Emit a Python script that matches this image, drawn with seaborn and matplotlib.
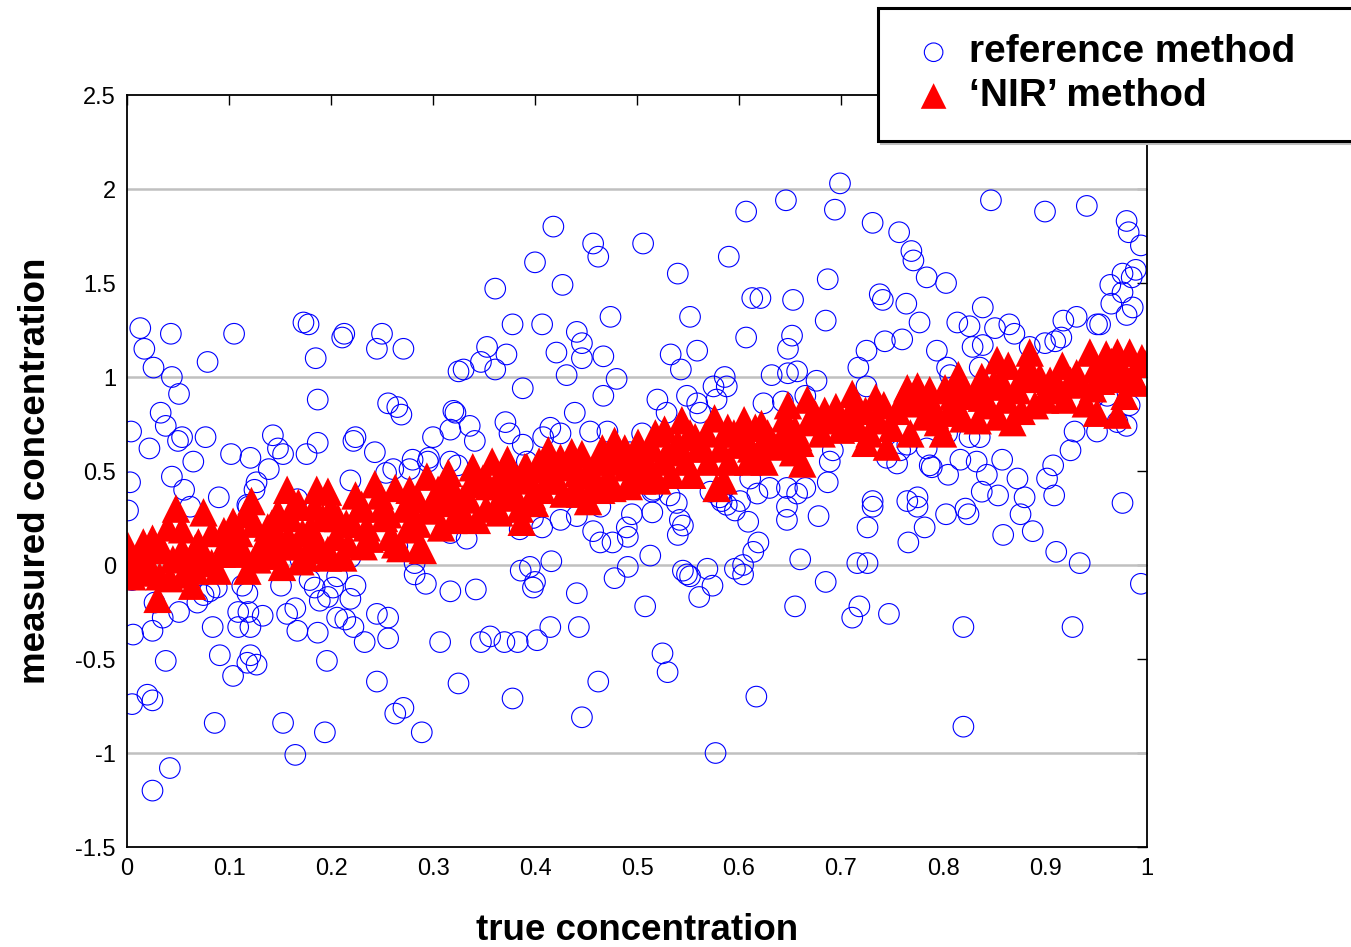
import numpy as np
import pandas as pd
import matplotlib
matplotlib.use("Agg")
import matplotlib.pyplot as plt
import seaborn as sns

# reference method readings (true, measured)
ref_x = [0.013, 0.017, 0.026, 0.043, 0.044, 0.051, 0.033, 0.038, 0.004, 0.050,
         0.054, 0.022, 0.065, 0.079, 0.105, 0.077, 0.102, 0.121, 0.139, 0.143,
         0.148, 0.153, 0.176, 0.187, 0.187, 0.185, 0.173, 0.178, 0.211, 0.213,
         0.250, 0.245, 0.271, 0.256, 0.265, 0.269, 0.300, 0.317, 0.320, 0.325,
         0.224, 0.222, 0.243, 0.280, 0.277, 0.296, 0.295, 0.254, 0.261, 0.219,
         0.044, 0.056, 0.003, 0.127, 0.125, 0.090, 0.062, 0.118, 0.167, 0.317,
         0.001, 0.119, 0.005, 0.027, 0.035, 0.051, 0.025, 0.006, 0.069, 0.075,
         0.081, 0.088, 0.084, 0.038, 0.091, 0.104, 0.118, 0.121, 0.127, 0.109,
         0.109, 0.121, 0.119, 0.133, 0.113, 0.118, 0.151, 0.157, 0.165, 0.167,
         0.187, 0.196, 0.179, 0.184, 0.189, 0.197, 0.206, 0.202, 0.219, 0.224,
         0.206, 0.214, 0.222, 0.233, 0.245, 0.256, 0.256, 0.245, 0.263, 0.271,
         0.289, 0.307, 0.282, 0.282, 0.293, 0.317, 0.325, 0.005, 0.020, 0.025,
         0.086, 0.153, 0.165, 0.194, 0.042, 0.025, 0.265, 0.143, 0.170, 0.219,
         0.317,
         0.418, 0.457, 0.462, 0.506, 0.400, 0.427, 0.361, 0.540, 0.607, 0.646,
         0.590, 0.613, 0.621, 0.653, 0.552, 0.474, 0.378, 0.407, 0.441, 0.446,
         0.421, 0.467, 0.446, 0.353, 0.372, 0.347, 0.330, 0.361, 0.431, 0.480,
         0.388, 0.467, 0.533, 0.559, 0.543, 0.607, 0.652, 0.648, 0.632, 0.648,
         0.586, 0.588, 0.575, 0.520, 0.549, 0.559, 0.578, 0.529, 0.624, 0.643,
         0.562, 0.439, 0.322, 0.336, 0.341, 0.371, 0.375, 0.388, 0.408, 0.415,
         0.425, 0.454, 0.471, 0.505, 0.324, 0.392, 0.493, 0.510, 0.516, 0.532,
         0.539, 0.611, 0.618, 0.630, 0.647, 0.581, 0.588, 0.601, 0.572, 0.657,
         0.464, 0.495, 0.515, 0.542, 0.545, 0.540, 0.490, 0.491, 0.457, 0.464,
         0.476, 0.441, 0.425, 0.407, 0.398, 0.385, 0.333, 0.515, 0.584, 0.596,
         0.583, 0.609, 0.647, 0.647, 0.619, 0.614, 0.604, 0.596, 0.604, 0.569,
         0.545, 0.549, 0.552, 0.574, 0.561, 0.513, 0.491, 0.478, 0.508, 0.416,
         0.395, 0.386, 0.400, 0.398, 0.441, 0.342, 0.415, 0.443, 0.356, 0.347,
         0.370, 0.383, 0.402, 0.525, 0.530, 0.378, 0.462, 0.446, 0.617, 0.577,
         0.655, 0.660,
         0.699, 0.694, 0.847, 0.900, 0.941, 0.980, 0.982, 0.994, 0.731, 0.757,
         0.769, 0.771, 0.784, 0.803, 0.687, 0.738, 0.741, 0.764, 0.685, 0.777,
         0.839, 0.814, 0.826, 0.851, 0.865, 0.870, 0.976, 0.989, 0.985, 0.964,
         0.976, 0.965, 0.986, 0.980, 0.918, 0.931, 0.951, 0.954, 0.916, 0.910,
         0.900, 0.885, 0.829, 0.839, 0.794, 0.760, 0.743, 0.725, 0.717, 0.676,
         0.657, 0.804, 0.807, 0.836, 0.873, 0.725, 0.665, 0.961, 0.983, 0.947,
         0.971, 0.980, 0.929, 0.951, 0.925, 0.826, 0.836, 0.804, 0.784, 0.765,
         0.758, 0.692, 0.689, 0.745, 0.755, 0.787, 0.789, 0.805, 0.817, 0.833,
         0.843, 0.858, 0.873, 0.908, 0.902, 0.838, 0.854, 0.880, 0.909, 0.976,
         0.687, 0.665, 0.731, 0.765, 0.775, 0.678, 0.731, 0.775, 0.782, 0.766,
         0.726, 0.803, 0.822, 0.825, 0.876, 0.888, 0.859, 0.911, 0.934, 0.994,
         0.716, 0.726, 0.685, 0.718, 0.711, 0.747, 0.820, 0.927, 0.820]
ref_y = [1.26, 1.15, 1.05, 1.23, 1.00, 0.91, 0.81, 0.74, 0.71, 0.66,
         0.68, 0.62, 0.55, 1.08, 1.23, 0.68, 0.59, 0.57, 0.51, 0.69,
         0.62, 0.59, 0.59, 0.65, 0.88, 1.10, 1.29, 1.28, 1.21, 1.23,
         1.23, 1.15, 1.15, 0.86, 0.84, 0.80, 0.68, 0.72, 0.82, 1.03,
         0.68, 0.66, 0.60, 0.56, 0.51, 0.57, 0.55, 0.49, 0.51, 0.45,
         0.47, 0.40, 0.44, 0.44, 0.40, 0.36, 0.31, 0.32, 0.35, 0.55,
         0.29, 0.31, -0.08, -0.20, -0.28, -0.25, -0.35, -0.37, -0.20, -0.16,
         -0.14, -0.12, -0.33, -0.51, -0.48, -0.59, -0.52, -0.48, -0.53, -0.33,
         -0.25, -0.33, -0.25, -0.27, -0.11, -0.15, -0.11, -0.26, -0.23, -0.35,
         -0.36, -0.51, -0.08, -0.12, -0.19, -0.17, -0.06, -0.12, -0.18, -0.11,
         -0.28, -0.29, -0.33, -0.41, -0.26, -0.28, -0.39, -0.62, -0.79, -0.76,
         -0.89, -0.41, 0.01, -0.05, -0.10, -0.14, -0.63, -0.74, -0.69, -0.72,
         -0.84, -0.84, -1.01, -0.89, -1.08, -1.20, 0.10, 0.04, 0.03, 0.04,
         0.17,
         1.80, 1.71, 1.64, 1.71, 1.61, 1.49, 1.47, 1.55, 1.88, 1.94,
         1.64, 1.42, 1.42, 1.41, 1.32, 1.32, 1.28, 1.28, 1.24, 1.18,
         1.13, 1.11, 1.10, 1.16, 1.12, 1.08, 1.04, 1.04, 1.01, 0.99,
         0.94, 0.90, 1.12, 1.14, 1.04, 1.21, 1.22, 1.15, 1.01, 1.02,
         1.00, 0.95, 0.95, 0.88, 0.90, 0.86, 0.88, 0.81, 0.86, 0.87,
         0.81, 0.81, 0.81, 0.74, 0.66, 0.76, 0.70, 0.64, 0.68, 0.73,
         0.70, 0.71, 0.71, 0.70, 0.53, 0.55, 0.60, 0.56, 0.40, 0.37,
         0.33, 0.46, 0.38, 0.41, 0.41, 0.36, 0.32, 0.34, 0.39, 0.38,
         0.31, 0.27, 0.28, 0.24, 0.21, 0.16, 0.20, 0.15, 0.18, 0.12,
         0.12, 0.26, 0.24, 0.20, 0.25, 0.19, 0.14, 0.39, 0.40, 0.29,
         0.34, 0.23, 0.31, 0.24, 0.12, 0.07, 0.00, -0.02, -0.05, -0.02,
         -0.03, -0.05, -0.06, -0.11, -0.17, 0.05, -0.01, -0.07, -0.22, 0.02,
         -0.01, -0.03, -0.09, -0.12, -0.15, -0.13, -0.33, -0.33, -0.38, -0.41,
         -0.41, -0.41, -0.40, -0.47, -0.57, -0.71, -0.62, -0.81, -0.70, -1.00,
         -0.22, 0.03,
         2.03, 1.89, 1.94, 1.88, 1.91, 1.83, 1.77, 1.70, 1.82, 1.77,
         1.67, 1.62, 1.53, 1.50, 1.52, 1.44, 1.41, 1.39, 1.30, 1.29,
         1.37, 1.29, 1.27, 1.26, 1.28, 1.23, 1.55, 1.57, 1.53, 1.49,
         1.45, 1.39, 1.37, 1.33, 1.30, 1.32, 1.28, 1.28, 1.21, 1.19,
         1.18, 1.16, 1.16, 1.17, 1.14, 1.20, 1.19, 1.14, 1.05, 0.98,
         1.03, 1.05, 1.01, 1.05, 0.97, 0.95, 0.90, 0.90, 0.85, 0.89,
         0.76, 0.74, 0.71, 0.71, 0.61, 0.68, 0.68, 0.70, 0.62, 0.64,
         0.61, 0.61, 0.55, 0.57, 0.54, 0.53, 0.52, 0.48, 0.56, 0.55,
         0.48, 0.56, 0.46, 0.53, 0.46, 0.39, 0.37, 0.36, 0.37, 0.33,
         0.44, 0.41, 0.34, 0.34, 0.36, 0.26, 0.31, 0.31, 0.20, 0.12,
         0.20, 0.27, 0.30, 0.27, 0.27, 0.18, 0.16, 0.07, 0.01, -0.10,
         0.01, 0.01, -0.09, -0.22, -0.28, -0.26, -0.33, -0.33, -0.86]

# 'NIR' method readings (true, measured)
nir_x = [0.048, 0.075, 0.001, 0.025, 0.016, 0.040, 0.054, 0.005, 0.018, 0.032,
         0.042, 0.030, 0.064, 0.067, 0.083, 0.089, 0.054, 0.067, 0.083, 0.104,
         0.116, 0.118, 0.125, 0.132, 0.103, 0.114, 0.093, 0.152, 0.175, 0.157,
         0.186, 0.197, 0.148, 0.163, 0.184, 0.158, 0.172, 0.187, 0.197, 0.142,
         0.142, 0.008, 0.012, 0.020, 0.035, 0.060, 0.072, 0.098, 0.135, 0.165,
         0.224, 0.243, 0.263, 0.277, 0.294, 0.315, 0.339, 0.358, 0.373, 0.392,
         0.404, 0.207, 0.221, 0.238, 0.217, 0.197, 0.263, 0.287, 0.275, 0.256,
         0.275, 0.295, 0.302, 0.319, 0.329, 0.320, 0.343, 0.324, 0.344, 0.366,
         0.371, 0.387, 0.397, 0.349, 0.250, 0.230, 0.285, 0.310, 0.355, 0.380,
         0.413, 0.436, 0.446, 0.466, 0.478, 0.412, 0.407, 0.442, 0.444, 0.459,
         0.476, 0.490, 0.495, 0.511, 0.518, 0.527, 0.544, 0.537, 0.534, 0.554,
         0.557, 0.570, 0.576, 0.589, 0.578, 0.599, 0.605, 0.609, 0.501, 0.508,
         0.425, 0.486, 0.420, 0.455, 0.470, 0.530, 0.565, 0.595,
         0.616, 0.628, 0.648, 0.648, 0.653, 0.662, 0.667, 0.684, 0.695, 0.711,
         0.707, 0.717, 0.724, 0.734, 0.736, 0.745, 0.755, 0.765, 0.773, 0.782,
         0.787, 0.802, 0.795, 0.805, 0.635, 0.619, 0.658, 0.681, 0.724, 0.640,
         0.700, 0.760, 0.790,
         0.815, 0.838, 0.853, 0.864, 0.885, 0.878, 0.887, 0.859, 0.873, 0.877,
         0.854, 0.838, 0.822, 0.812, 0.834, 0.902, 0.900, 0.917, 0.913, 0.931,
         0.944, 0.949, 0.947, 0.951, 0.960, 0.971, 0.983, 0.995, 0.986, 0.971,
         0.978, 0.969, 0.830, 0.895, 0.925, 0.960,
         0.010, 0.022, 0.028, 0.045, 0.058, 0.070, 0.078, 0.095, 0.108, 0.128,
         0.138, 0.150, 0.160, 0.170, 0.180, 0.192, 0.205, 0.212, 0.228, 0.235,
         0.248, 0.258, 0.268, 0.272, 0.283, 0.290, 0.300, 0.308, 0.318, 0.332,
         0.338, 0.352, 0.362, 0.368, 0.378, 0.385, 0.395, 0.400, 0.418, 0.428,
         0.432, 0.450, 0.452, 0.462, 0.472, 0.483, 0.492, 0.500, 0.515, 0.520,
         0.525, 0.540, 0.548, 0.560, 0.568, 0.582, 0.590, 0.600, 0.612, 0.622,
         0.632, 0.645, 0.655, 0.668, 0.675, 0.690, 0.700, 0.715, 0.728, 0.742,
         0.750, 0.768, 0.778, 0.792, 0.800, 0.810, 0.820, 0.845, 0.850, 0.862,
         0.868, 0.890, 0.905, 0.920, 0.935, 0.940, 0.955, 0.965, 0.975, 0.990,
         0.998,
         0.110, 0.122, 0.145, 0.168, 0.178, 0.200, 0.215, 0.232, 0.252, 0.285,
         0.305, 0.335, 0.365, 0.390, 0.415, 0.440, 0.465, 0.488, 0.505, 0.552,
         0.585, 0.625, 0.660, 0.698, 0.735, 0.775, 0.815, 0.860, 0.885, 0.930]
nir_y = [0.30, 0.28, 0.10, 0.14, 0.12, 0.20, 0.19, -0.06, -0.03, -0.06,
         -0.07, -0.18, -0.11, -0.03, 0.01, -0.03, 0.08, 0.09, 0.17, 0.23,
         0.27, -0.03, 0.22, 0.11, 0.06, 0.07, 0.06, -0.01, 0.04, 0.40,
         0.40, 0.39, 0.28, 0.31, 0.31, 0.15, 0.17, 0.12, 0.04, 0.15,
         0.22, 0.03, 0.06, 0.02, 0.08, 0.00, 0.05, 0.13, 0.05, 0.10,
         0.37, 0.43, 0.41, 0.40, 0.47, 0.49, 0.52, 0.55, 0.56, 0.52,
         0.55, 0.25, 0.22, 0.14, 0.11, 0.08, 0.11, 0.10, 0.19, 0.27,
         0.32, 0.29, 0.36, 0.41, 0.35, 0.24, 0.24, 0.27, 0.43, 0.36,
         0.36, 0.23, 0.37, 0.46, 0.30, 0.32, 0.22, 0.38, 0.42, 0.48,
         0.61, 0.60, 0.59, 0.62, 0.66, 0.51, 0.40, 0.49, 0.38, 0.44,
         0.41, 0.52, 0.47, 0.54, 0.70, 0.72, 0.77, 0.61, 0.48, 0.48,
         0.68, 0.55, 0.78, 0.73, 0.41, 0.64, 0.77, 0.55, 0.65, 0.49,
         0.57, 0.57, 0.45, 0.50, 0.55, 0.60, 0.62, 0.70,
         0.73, 0.70, 0.85, 0.72, 0.60, 0.54, 0.88, 0.82, 0.84, 0.91,
         0.79, 0.73, 0.65, 0.89, 0.77, 0.63, 0.82, 0.94, 0.86, 0.79,
         0.93, 0.94, 0.76, 0.81, 0.63, 0.60, 0.68, 0.70, 0.82, 0.66,
         0.78, 0.88, 0.85,
         1.01, 1.00, 1.09, 1.06, 1.13, 1.01, 0.99, 0.95, 0.93, 0.82,
         0.79, 0.89, 0.93, 0.82, 0.77, 0.93, 0.88, 1.06, 0.95, 1.02,
         1.13, 1.04, 0.94, 0.81, 1.12, 1.13, 1.13, 1.10, 1.01, 0.80,
         0.90, 0.99, 0.90, 1.00, 0.98, 1.05,
         0.00, -0.04, 0.08, 0.03, -0.05, 0.12, 0.02, 0.18, 0.12, 0.03,
         0.20, 0.10, 0.25, 0.02, 0.20, 0.25, 0.15, 0.04, 0.30, 0.20,
         0.37, 0.15, 0.09, 0.30, 0.23, 0.08, 0.30, 0.20, 0.33, 0.25,
         0.44, 0.30, 0.42, 0.50, 0.40, 0.30, 0.45, 0.33, 0.45, 0.38,
         0.52, 0.48, 0.34, 0.55, 0.47, 0.60, 0.42, 0.55, 0.62, 0.45,
         0.55, 0.65, 0.55, 0.62, 0.70, 0.62, 0.55, 0.70, 0.62, 0.75,
         0.66, 0.78, 0.72, 0.76, 0.80, 0.77, 0.72, 0.85, 0.70, 0.85,
         0.73, 0.70, 0.88, 0.80, 0.70, 0.90, 0.78, 0.85, 0.97, 0.88,
         0.76, 0.85, 0.98, 0.88, 0.96, 0.86, 0.98, 1.08, 1.05, 0.97,
         1.07,
         0.17, 0.34, 0.05, 0.33, 0.08, 0.30, 0.22, 0.10, 0.25, 0.35,
         0.40, 0.35, 0.28, 0.52, 0.55, 0.42, 0.40, 0.62, 0.45, 0.70,
         0.45, 0.55, 0.65, 0.80, 0.78, 0.95, 0.92, 0.95, 1.04, 1.00]

df_ref = pd.DataFrame({"true": ref_x, "measured": ref_y})
df_nir = pd.DataFrame({"true": nir_x, "measured": nir_y})

sns.set_style("white")
plt.rcParams["font.family"] = ["Liberation Sans", "DejaVu Sans"]
plt.rcParams["text.color"] = "black"
plt.rcParams["axes.labelcolor"] = "black"
plt.rcParams["xtick.color"] = "black"
plt.rcParams["ytick.color"] = "black"

fig = plt.figure(figsize=(13.51, 9.47), dpi=100)
ax = fig.add_axes([127 / 1351, 100 / 947, 1020 / 1351, 752 / 947])

sns.scatterplot(data=df_ref, x="true", y="measured", ax=ax, marker="o", s=220,
                facecolor="none", edgecolor="#0000ff", linewidth=0.8,
                label="reference method", zorder=3)
sns.scatterplot(data=df_nir, x="true", y="measured", ax=ax, marker="^", s=420,
                color="#ff0000", edgecolor="none", linewidth=0,
                label="\u2018NIR\u2019 method", zorder=4)

ax.set_xlim(0, 1)
ax.set_ylim(-1.5, 2.5)
ax.set_xticks(np.arange(0, 1.01, 0.1))
ax.set_xticklabels(["0", "0.1", "0.2", "0.3", "0.4", "0.5", "0.6", "0.7", "0.8", "0.9", "1"])
ax.set_yticks(np.arange(-1.5, 2.51, 0.5))
ax.set_yticklabels(["-1.5", "-1", "-0.5", "0", "0.5", "1", "1.5", "2", "2.5"])
for yv in [-1, 0, 1, 2]:
    ax.axhline(yv, color="#c0c0c0", lw=1.8, zorder=1)

ax.tick_params(direction="in", length=7, width=1, top=True, right=True,
               labelsize=17, pad=8, color="black", labelcolor="black")
for sp in ax.spines.values():
    sp.set_color("black")
    sp.set_linewidth(1.3)
    sp.set_zorder(5)

ax.set_xlabel("true concentration", fontsize=26.5, fontweight="bold", labelpad=24)
ax.set_ylabel("measured concentration", fontsize=26.5, fontweight="bold", labelpad=16)

leg = ax.legend(loc="upper left", bbox_to_anchor=(878 / 1351, 1 - 135 / 947, 0.40, 127 / 947),
                bbox_transform=fig.transFigure, mode="expand", frameon=True,
                fancybox=False, shadow={"color": "0.75", "alpha": 1},
                prop={"size": 28, "weight": "bold"}, handletextpad=0.15,
                handlelength=1.5, borderpad=0.68, labelspacing=0.2,
                borderaxespad=0, markerscale=0.9)
leg.get_frame().set_edgecolor("black")
leg.get_frame().set_linewidth(2.2)
leg.set_zorder(10)

fig.savefig("out.png", dpi=100)
